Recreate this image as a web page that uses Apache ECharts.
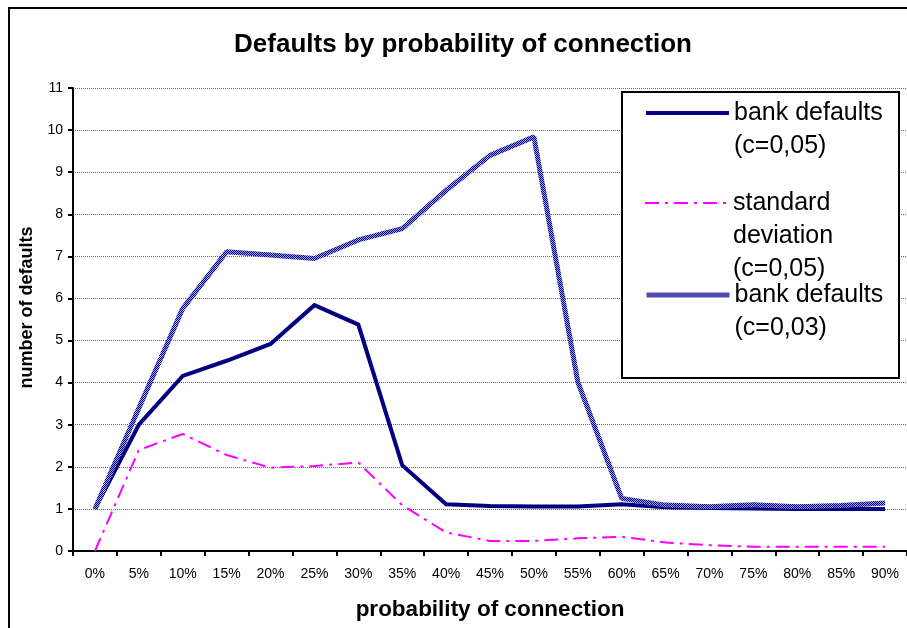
<!DOCTYPE html>
<html>
<head>
<meta charset="utf-8">
<script src="https://cdn.jsdelivr.net/npm/echarts@6/dist/echarts.min.js"></script>
<style>
html,body{margin:0;padding:0;background:#fff;}
#chart{width:907px;height:628px;}
</style>
</head>
<body>
<div id="chart"></div>
<script>
var categories = ['0%','5%','10%','15%','20%','25%','30%','35%','40%','45%','50%','55%','60%','65%','70%','75%','80%','85%','90%'];
var bankDefaults05 = [1.0, 3.0, 4.16, 4.52, 4.92, 5.84, 5.38, 2.04, 1.11, 1.07, 1.06, 1.06, 1.11, 1.04, 1.02, 1.01, 1.0, 1.0, 1.0];
var stdDev05 = [0, 2.4, 2.78, 2.28, 1.98, 2.02, 2.1, 1.09, 0.44, 0.24, 0.24, 0.3, 0.34, 0.2, 0.14, 0.1, 0.1, 0.1, 0.1];
var bankDefaults03 = [1.0, 3.39, 5.76, 7.11, 7.03, 6.95, 7.39, 7.66, 8.57, 9.4, 9.84, 4.02, 1.25, 1.09, 1.05, 1.1, 1.05, 1.08, 1.14];
var seriesNames = ['bank defaults\n(c=0,05)', 'standard\ndeviation\n(c=0,05)', 'bank defaults\n(c=0,03)'];
var yTicks = {min: 0, max: 11, interval: 1};

var FONT = "'Liberation Sans', Arial, sans-serif";

// checker pattern for the c=0,03 line
var pc = document.createElement('canvas');
pc.width = 2; pc.height = 2;
var pctx = pc.getContext('2d');
pctx.fillStyle = '#9a9ae6'; pctx.fillRect(0,0,2,2);
pctx.fillStyle = '#000080'; pctx.fillRect(0,0,1,1); pctx.fillRect(1,1,1,1);
var patternColor = {image: pc, repeat: 'repeat'};

var LH = 33;
function legendFor(name, nLines, iconY) {
  var boxTop = iconY - (2 * nLines - 1) * LH / 2;
  var pad = new Array(nLines).join('\n');
  return {
    data: [name],
    left: 644,
    top: boxTop,
    padding: 0,
    orient: 'vertical',
    itemWidth: 83,
    itemHeight: 14,
    selectedMode: false,
    z: 10,
    formatter: function (n) { return pad + n; },
    lineStyle: {width: 'inherit'},
    itemStyle: {opacity: 0},
    textStyle: {fontFamily: FONT, fontSize: 25, color: '#000', lineHeight: LH}
  };
}

var chart = echarts.init(document.getElementById('chart'), null, {renderer: 'canvas'});
chart.setOption({
  animation: false,
  backgroundColor: '#fff',
  title: {
    text: 'Defaults by probability of connection',
    left: 463, top: 32, padding: 0, textAlign: 'center',
    textStyle: {fontFamily: FONT, fontSize: 26, fontWeight: 'bold', color: '#000'}
  },
  graphic: [
    {type: 'rect', z: -10, shape: {x: 9, y: 8, width: 1000, height: 1000},
     style: {fill: 'none', stroke: '#000', lineWidth: 2}},
    {type: 'rect', z: 5, shape: {x: 622, y: 92, width: 277, height: 286},
     style: {fill: '#fff', stroke: '#000', lineWidth: 2}}
  ],
  legend: [
    legendFor(seriesNames[0], 2, 113),
    legendFor(seriesNames[1], 3, 203),
    legendFor(seriesNames[2], 2, 295)
  ],
  grid: {left: 73, top: 88, width: 848.7, bottom: 77, containLabel: false},
  xAxis: {
    type: 'category', data: categories, boundaryGap: true,
    name: 'probability of connection', nameLocation: 'middle', nameGap: 47,
    nameTextStyle: {fontFamily: FONT, fontSize: 22.5, fontWeight: 'bold', color: '#000'},
    axisLine: {lineStyle: {color: '#000', width: 2}},
    axisTick: {show: true, length: 5, lineStyle: {color: '#000', width: 2}, alignWithLabel: false},
    axisLabel: {fontFamily: FONT, fontSize: 14, color: '#000', margin: 16, interval: 0},
    splitLine: {show: false}
  },
  yAxis: {
    type: 'value', min: yTicks.min, max: yTicks.max, interval: yTicks.interval,
    name: 'number of defaults', nameLocation: 'middle', nameGap: 28,
    nameTextStyle: {fontFamily: FONT, fontSize: 18, fontWeight: 'bold', color: '#000', padding: [0, 0, 0, 24]},
    axisLine: {show: true, lineStyle: {color: '#000', width: 2}},
    axisTick: {show: true, length: 5, lineStyle: {color: '#000', width: 2}},
    axisLabel: {fontFamily: FONT, fontSize: 14, color: '#000', margin: 10},
    splitLine: {show: true, lineStyle: {color: '#666', width: 1, type: [1, 1]}}
  },
  series: [
    {name: seriesNames[0], type: 'line', data: bankDefaults05, symbol: 'none', z: 3,
     lineStyle: {color: '#000080', width: 4, join: 'miter'}},
    {name: seriesNames[1], type: 'line', data: stdDev05, symbol: 'none', z: 2,
     lineStyle: {color: '#ff00ff', width: 2, type: [14, 6, 3, 6]}},
    {name: seriesNames[2], type: 'line', data: bankDefaults03, symbol: 'none', z: 4,
     lineStyle: {color: patternColor, width: 5}}
  ]
});
</script>
</body>
</html>
